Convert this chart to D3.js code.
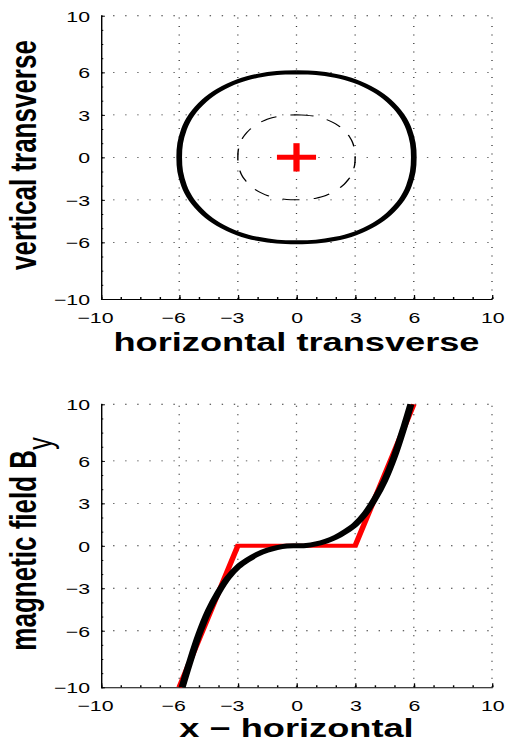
<!DOCTYPE html>
<html>
<head>
<meta charset="utf-8">
<script src="https://cdn.jsdelivr.net/npm/d3@7"></script>
<style>
  html, body { margin: 0; padding: 0; background: #fff; }
  svg { display: block; }
  text { font-family: "Liberation Sans", Arial, Helvetica, sans-serif; fill: #000; }
</style>
</head>
<body>
<div id="chart"></div>
<script>
const W = 509;
const H = 742;
// the whole figure is stretched horizontally
const SX = 1.42;

const majorTicks = [-10, -6, -3, 0, 3, 6, 10];
const gridVals = [-6, -3, 0, 3, 6, 10];
const minorTicks = d3.range(-10, 11, 1);

// top panel: beam cross-section (outer contour, inner dashed contour)
const outerX = [0, 1, 2, 2.5, 3, 3.5, 4, 4.38, 4.72, 5.08, 5.37, 5.59, 5.75, 5.95,
  6, 5.95, 5.75, 5.59, 5.37, 5.08, 4.72, 4.38, 4, 3.5, 3, 2.5, 2, 1,
  0, -1, -2, -2.5, -3, -3.5, -4, -4.38, -4.72, -5.08, -5.37, -5.59, -5.75, -5.95,
  -6, -5.95, -5.75, -5.59, -5.37, -5.08, -4.72, -4.38, -4, -3.5, -3, -2.5, -2, -1, 0];
const outerY = [6, 5.95, 5.75, 5.59, 5.37, 5.08, 4.72, 4.38, 4, 3.5, 3, 2.5, 2, 1,
  0, -1, -2, -2.5, -3, -3.5, -4, -4.38, -4.72, -5.08, -5.37, -5.59, -5.75, -5.95,
  -6, -5.95, -5.75, -5.59, -5.37, -5.08, -4.72, -4.38, -4, -3.5, -3, -2.5, -2, -1,
  0, 1, 2, 2.5, 3, 3.5, 4, 4.38, 4.72, 5.08, 5.37, 5.59, 5.75, 5.95, 6];
const innerX = [0, 0.5, 1, 1.25, 1.5, 1.75, 2, 2.19, 2.36, 2.54, 2.69, 2.8, 2.88, 2.98,
  3, 2.98, 2.88, 2.8, 2.69, 2.54, 2.36, 2.19, 2, 1.75, 1.5, 1.25, 1, 0.5,
  0, -0.5, -1, -1.25, -1.5, -1.75, -2, -2.19, -2.36, -2.54, -2.69, -2.8, -2.88, -2.98,
  -3, -2.98, -2.88, -2.8, -2.69, -2.54, -2.36, -2.19, -2, -1.75, -1.5, -1.25, -1, -0.5, 0];
const innerY = [3, 2.98, 2.88, 2.8, 2.69, 2.54, 2.36, 2.19, 2, 1.75, 1.5, 1.25, 1, 0.5,
  0, -0.5, -1, -1.25, -1.5, -1.75, -2, -2.19, -2.36, -2.54, -2.69, -2.8, -2.88, -2.98,
  -3, -2.98, -2.88, -2.8, -2.69, -2.54, -2.36, -2.19, -2, -1.75, -1.5, -1.25, -1, -0.5,
  0, 0.5, 1, 1.25, 1.5, 1.75, 2, 2.19, 2.36, 2.54, 2.69, 2.8, 2.88, 2.98, 3];
const crossArm = [-1, 1];

// bottom panel: field profile (red ramp, black smooth)
const rampX = [-6, -3, 3, 6];
const rampB = [-10, 0, 0, 10];
const fieldX = [-5.85, -5.5, -5, -4.5, -4, -3.5, -3, -2.5, -2, -1.5, -1, -0.5, 0,
  0.5, 1, 1.5, 2, 2.5, 3, 3.5, 4, 4.5, 5, 5.5, 5.85];
const fieldB = [-10, -8.4, -6.3, -4.6, -3.3, -2.25, -1.5, -1.0, -0.6, -0.32, -0.13, -0.02, 0,
  0.02, 0.13, 0.32, 0.6, 1.0, 1.5, 2.25, 3.3, 4.6, 6.3, 8.4, 10];

const svg = d3.select('#chart').append('svg')
  .attr('width', W)
  .attr('height', H)
  .attr('viewBox', `0 0 ${W} ${H}`);

svg.append('rect').attr('width', W).attr('height', H).attr('fill', '#fff');

const root = svg.append('g').attr('transform', `scale(${SX},1)`);

const x = d3.scaleLinear().domain([-10, 10]).range([101 / SX, 492 / SX]);
const yTop = d3.scaleLinear().domain([-10, 10]).range([299, 15.7]);
const yBot = d3.scaleLinear().domain([-10, 10]).range([687.3, 404.3]);

function drawPanel(y, xlabel, labelY) {
  const g = root.append('g');

  // dotted grid
  g.append('g').selectAll('line')
    .data(gridVals).join('line')
    .attr('x1', d => x(d)).attr('x2', d => x(d))
    .attr('y1', y(-10)).attr('y2', y(10))
    .attr('stroke', '#333').attr('stroke-width', 0.9)
    .attr('stroke-dasharray', '1,7.5');
  g.append('g').selectAll('line')
    .data(gridVals).join('line')
    .attr('x1', x(-10)).attr('x2', x(10))
    .attr('y1', d => y(d)).attr('y2', d => y(d))
    .attr('stroke', '#333').attr('stroke-width', 0.9)
    .attr('stroke-dasharray', '1,7.5');

  // minor ticks
  g.append('g').attr('transform', `translate(0,${y(-10)})`)
    .call(d3.axisBottom(x).tickValues(minorTicks).tickSize(-2).tickSizeOuter(0).tickFormat(''))
    .call(a => a.select('.domain').remove());
  g.append('g').attr('transform', `translate(${x(-10)},0)`)
    .call(d3.axisLeft(y).tickValues(minorTicks).tickSize(-1.6).tickSizeOuter(0).tickFormat(''))
    .call(a => a.select('.domain').remove());

  // major axes
  const ax = g.append('g').attr('transform', `translate(0,${y(-10)})`)
    .call(d3.axisBottom(x).tickValues(majorTicks).tickSize(-4).tickSizeOuter(0));
  ax.selectAll('text')
    .attr('y', 24).attr('dy', 0)
    .attr('x', d => d < 0 ? -4.4 : 0)
    .style('font-size', '15px');

  const ay = g.append('g').attr('transform', `translate(${x(-10)},0)`)
    .call(d3.axisLeft(y).tickValues(majorTicks).tickSize(-2.8).tickSizeOuter(0));
  ay.selectAll('text')
    .attr('x', -11 / SX).attr('dy', '0.36em')
    .style('font-size', '15px');

  [ax, ay].forEach(a => {
    a.attr('font-family', null).attr('font-size', null);
    a.select('.domain').attr('stroke', '#000').attr('stroke-width', 1);
    a.selectAll('.tick line').attr('stroke', '#000').attr('stroke-width', 0.9);
  });

  g.append('text')
    .attr('x', x(0))
    .attr('y', labelY)
    .attr('text-anchor', 'middle')
    .style('font-size', '25.5px')
    .style('font-weight', 'bold')
    .text(xlabel);

  return g;
}

// ---- top panel
const gTop = drawPanel(yTop, 'horizontal transverse', 351.5);

const ring = d3.line().x(d => x(d[0])).y(d => yTop(d[1])).curve(d3.curveCatmullRom);

gTop.append('path')
  .attr('d', ring(d3.zip(innerX, innerY)))
  .attr('fill', 'none').attr('stroke', '#000').attr('stroke-width', 1)
  .attr('stroke-dasharray', '12,10');

gTop.append('path')
  .attr('d', ring(d3.zip(outerX, outerY)))
  .attr('fill', 'none').attr('stroke', '#000').attr('stroke-width', 4)
  .attr('stroke-linecap', 'butt');

gTop.append('line')
  .attr('x1', x(crossArm[0])).attr('x2', x(crossArm[1]))
  .attr('y1', yTop(0)).attr('y2', yTop(0))
  .attr('stroke', '#f00').attr('stroke-width', 5);
gTop.append('line')
  .attr('x1', x(0)).attr('x2', x(0))
  .attr('y1', yTop(crossArm[0])).attr('y2', yTop(crossArm[1]))
  .attr('stroke', '#f00').attr('stroke-width', 4.4);

gTop.append('text')
  .attr('transform', `translate(${36 / SX},${155}) rotate(-90)`)
  .attr('text-anchor', 'middle')
  .style('font-size', '26px')
  .style('font-weight', 'bold')
  .text('vertical transverse');

// ---- bottom panel
const gBot = drawPanel(yBot, 'x \u2212 horizontal', 737.5);

const prof = d3.line().x(d => x(d[0])).y(d => yBot(d[1]));

gBot.append('path')
  .attr('d', prof(d3.zip(rampX, rampB)))
  .attr('fill', 'none').attr('stroke', '#f00').attr('stroke-width', 4)
  .attr('stroke-linejoin', 'miter');

gBot.append('path')
  .attr('d', prof.curve(d3.curveCatmullRom)(d3.zip(fieldX, fieldB)))
  .attr('fill', 'none').attr('stroke', '#000').attr('stroke-width', 5);

const yl = gBot.append('text')
  .attr('transform', `translate(${36 / SX},${544}) rotate(-90)`)
  .attr('text-anchor', 'middle')
  .style('font-size', '26px');
yl.append('tspan').style('font-weight', 'bold').text('magnetic field B');
yl.append('tspan').attr('dy', 11).style('font-size', '25px').text('y');
</script>
</body>
</html>
